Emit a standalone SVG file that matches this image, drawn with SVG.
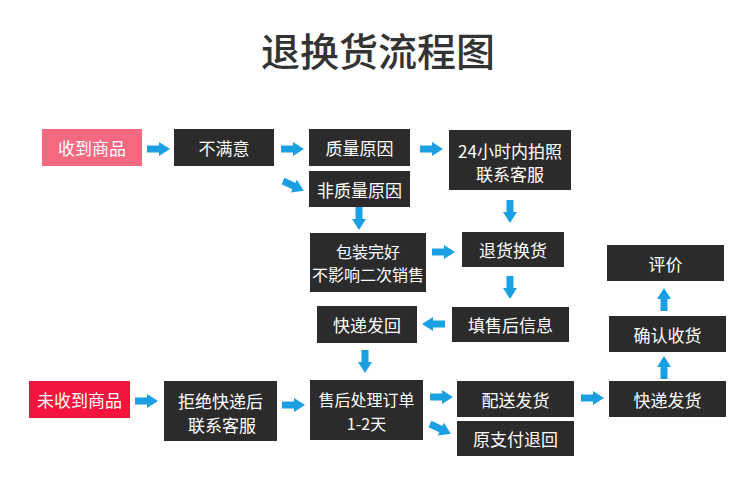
<svg xmlns="http://www.w3.org/2000/svg" width="750" height="503" viewBox="0 0 750 503">
<defs>
<style>
.box{fill:#2b2b2b;}
.t{fill:#ffffff;font-family:"Noto Sans CJK SC","Noto Sans",sans-serif;font-size:17px;text-anchor:middle;dominant-baseline:central;}
.s{font-size:16px;}
.title{fill:#333333;font-family:"Noto Sans CJK SC","Noto Sans",sans-serif;font-size:39px;font-weight:500;text-anchor:middle;}
.arr{fill:#1a9fe3;}
</style>
<path id="a" d="M0,-3.5 H12 V-7 L23,0 L12,7 V3.5 H0 Z"/>
</defs>
<rect width="750" height="503" fill="#ffffff"/>
<text class="title" x="378" y="66">退换货流程图</text>

<g id="n1"><rect x="42" y="129" width="100" height="37" fill="#f4697f"/><text class="t" x="92" y="147.5">收到商品</text></g>
<g id="n2"><rect class="box" x="174" y="129" width="100" height="37"/><text class="t" x="224" y="147.5">不满意</text></g>
<g id="n3"><rect class="box" x="309" y="129" width="101" height="37"/><text class="t" x="359.5" y="147.5">质量原因</text></g>
<g id="n4"><rect class="box" x="309" y="171" width="101" height="36"/><text class="t" x="359.5" y="189">非质量原因</text></g>
<g id="n5"><rect class="box" x="449" y="130" width="122" height="60"/><text class="t" x="510" y="150">24小时内拍照</text><text class="t" x="510" y="173">联系客服</text></g>
<g id="n6"><rect class="box" x="310" y="233" width="116" height="59"/><text class="t s" x="368" y="251">包装完好</text><text class="t s" x="368" y="274">不影响二次销售</text></g>
<g id="n7"><rect class="box" x="462" y="232" width="102" height="35"/><text class="t" x="513" y="249.5">退货换货</text></g>
<g id="n8"><rect class="box" x="452" y="307" width="117" height="35"/><text class="t" x="510.5" y="324.5">填售后信息</text></g>
<g id="n9"><rect class="box" x="317" y="306" width="100" height="37"/><text class="t" x="367" y="324.5">快递发回</text></g>
<g id="n10"><rect x="29" y="381" width="101" height="37" fill="#f5143c"/><text class="t" x="79.5" y="399.5">未收到商品</text></g>
<g id="n11"><rect class="box" x="164" y="381" width="113" height="60"/><text class="t" x="220.5" y="400">拒绝快递后</text><text class="t" x="222" y="424">联系客服</text></g>
<g id="n12"><rect class="box" x="310" y="380" width="113" height="60"/><text class="t s" x="366.5" y="399">售后处理订单</text><text class="t s" x="366.5" y="423">1-2天</text></g>
<g id="n13"><rect class="box" x="457" y="381" width="117" height="36"/><text class="t" x="515.5" y="399">配送发货</text></g>
<g id="n14"><rect class="box" x="457" y="421" width="117" height="35"/><text class="t" x="515.5" y="438.5">原支付退回</text></g>
<g id="n15"><rect class="box" x="609" y="381" width="117" height="36"/><text class="t" x="667.5" y="399">快递发货</text></g>
<g id="n16"><rect class="box" x="609" y="316" width="117" height="36"/><text class="t" x="667.5" y="334">确认收货</text></g>
<g id="n17"><rect class="box" x="607" y="245" width="117" height="36"/><text class="t" x="665.5" y="263">评价</text></g>

<g id="connectors" class="arr">
<use href="#a" transform="translate(147,149)"/>
<use href="#a" transform="translate(281,149)"/>
<use href="#a" transform="translate(420,149)"/>
<use href="#a" transform="translate(283,181) rotate(25)"/>
<use href="#a" transform="translate(359,207) rotate(90)"/>
<use href="#a" transform="translate(510,200) rotate(90)"/>
<use href="#a" transform="translate(432,252)"/>
<use href="#a" transform="translate(510,276) rotate(90)"/>
<use href="#a" transform="translate(445,324) rotate(180)"/>
<use href="#a" transform="translate(365,350) rotate(90)"/>
<use href="#a" transform="translate(135,401)"/>
<use href="#a" transform="translate(282,405)"/>
<use href="#a" transform="translate(430,397)"/>
<use href="#a" transform="translate(430,424) rotate(25)"/>
<use href="#a" transform="translate(581,398)"/>
<use href="#a" transform="translate(664,379) rotate(-90)"/>
<use href="#a" transform="translate(664,311) rotate(-90)"/>
</g>
</svg>
